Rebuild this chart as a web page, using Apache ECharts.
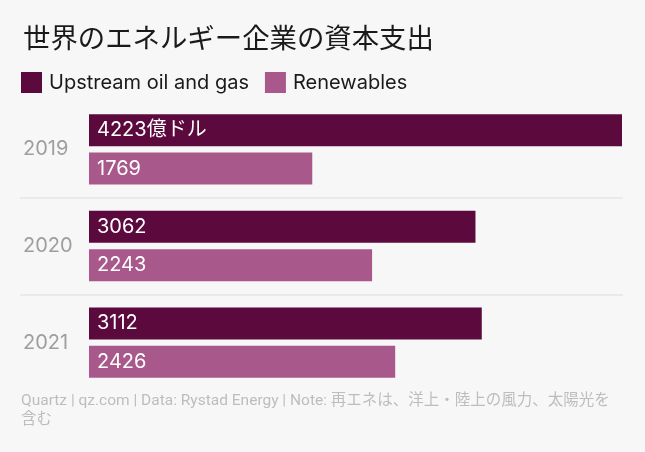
<!DOCTYPE html>
<html>
<head>
<meta charset="utf-8">
<script src="https://cdn.jsdelivr.net/npm/echarts@6/dist/echarts.min.js"></script>
<style>
  html, body { margin: 0; padding: 0; background: #f7f7f7; }
  #chart { width: 645px; height: 452px; }
</style>
</head>
<body>
<div id="chart"></div>
<script>
const years = ["2019", "2020", "2021"];
const upstream = [4223, 3062, 3112];
const renewables = [1769, 2243, 2426];
const seriesNames = ["Upstream oil and gas", "Renewables"];

const font = 'Inter, "Noto Sans CJK JP", sans-serif';
const chart = echarts.init(document.getElementById("chart"));

// room on the left of the grid for the year labels, expressed in axis units
// so the separator lines can run under them
const labelRoomPx = 69;
const barSpanPx = 533;
const axisMax = upstream[0] * (barSpanPx + 1) / barSpanPx;
const axisMin = -upstream[0] * labelRoomPx / barSpanPx;

const barLabel = {
  show: true,
  position: "insideLeft",
  distance: 8,
  color: "#fff",
  fontSize: 20,
  fontFamily: font
};

let option = {
  backgroundColor: "#f7f7f7",
  animation: false,
  title: [
    {
      text: "世界のエネルギー企業の資本支出",
      left: 23,
      top: 24,
      padding: 0,
      textStyle: {
        fontSize: 27.4,
        fontWeight: "normal",
        color: "#1a1a1a",
        fontFamily: '"Noto Sans CJK JP", sans-serif'
      }
    },
    {
      text: "Quartz | qz.com | Data: Rystad Energy | Note: 再エネは、洋上・陸上の風力、太陽光を\n含む",
      left: 21,
      top: 392,
      padding: 0,
      textStyle: {
        fontSize: 15.5,
        fontWeight: "normal",
        color: "#bdbdbd",
        lineHeight: 19,
        fontFamily: 'Roboto, "Noto Sans CJK JP", sans-serif'
      }
    }
  ],
  legend: {
    left: 21,
    top: 72,
    padding: 0,
    icon: "rect",
    itemWidth: 21,
    itemHeight: 21,
    itemGap: 16,
    textStyle: { fontSize: 20, color: "#1a1a1a", fontFamily: font, padding: [0, 0, 0, 2] },
    data: seriesNames
  },
  grid: { left: 20, right: 22, top: 101, bottom: 61 },
  xAxis: {
    type: "value",
    min: axisMin,
    max: axisMax,
    show: false
  },
  yAxis: {
    type: "category",
    data: years,
    inverse: true,
    axisLine: { show: false },
    axisTick: { show: false },
    axisLabel: {
      inside: true,
      margin: 3,
      color: "#9e9e9e",
      fontSize: 20,
      fontFamily: font
    },
    splitLine: {
      show: true,
      lineStyle: { color: ["transparent", "#e6e6e6", "#e6e6e6", "transparent"], width: 1.5 }
    }
  },
  series: [
    {
      name: seriesNames[0],
      type: "bar",
      data: upstream,
      barWidth: 32,
      barGap: "20%",
      itemStyle: { color: "#5c0a3d" },
      label: Object.assign({}, barLabel, {
        formatter: p => (p.dataIndex === 0 ? p.value + "億ドル" : String(p.value))
      })
    },
    {
      name: seriesNames[1],
      type: "bar",
      data: renewables,
      barWidth: 32,
      barGap: "20%",
      itemStyle: { color: "#a8588a" },
      label: barLabel
    }
  ]
};

chart.setOption(option);
</script>
</body>
</html>
